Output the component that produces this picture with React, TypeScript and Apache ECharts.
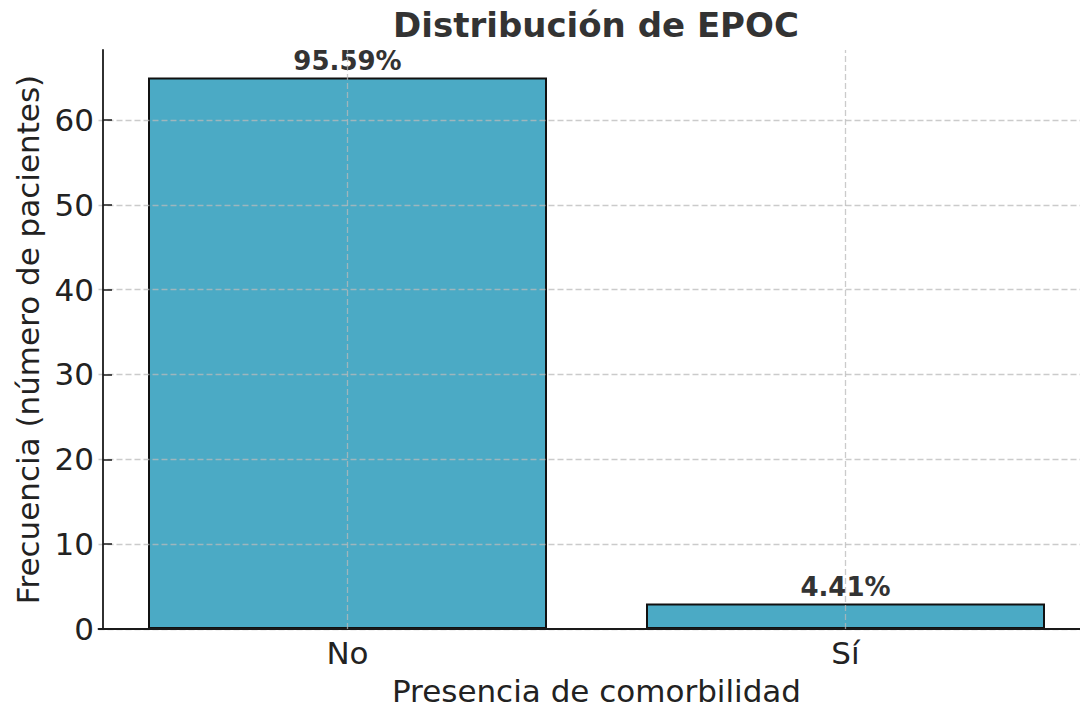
import React, { useEffect, useRef } from "react";
import * as echarts from "echarts";

const categories = ["No", "Sí"];
const counts = [65, 3];
const yTicks = [0, 10, 20, 30, 40, 50, 60];
const yMax = 68.25;

const FONT = "DejaVu Sans";

export default function App() {
  const ref = useRef<HTMLDivElement>(null);
  useEffect(() => {
    if (!ref.current) return;
    const chart = echarts.init(ref.current, null, { renderer: "svg" });
    const total = counts.reduce((a, b) => a + b, 0);
    const gridColor = "rgba(185,185,185,0.75)";
    chart.setOption({
      animation: false,
      backgroundColor: "#ffffff",
      textStyle: { fontFamily: FONT },
      graphic: [
        {
          type: "text",
          x: 596,
          y: 25,
          style: {
            text: "Distribución de EPOC",
            fill: "#333333",
            font: `bold 34px "${FONT}"`,
            textAlign: "center",
            textVerticalAlign: "middle",
          },
        },
      ],
      grid: { left: 98.5, right: 5.5, top: 50, bottom: 82 },
      xAxis: {
        type: "category",
        data: categories,
        z: 3,
        axisLine: { lineStyle: { color: "#1a1a1a", width: 1.8 } },
        axisTick: { alignWithLabel: true, inside: true, length: 9, lineStyle: { color: "#1a1a1a", width: 1.5 } },
        axisLabel: { color: "#222222", fontSize: 31, fontFamily: FONT, margin: 8 },
        splitLine: { show: false },
        name: "Presencia de comorbilidad",
        nameLocation: "middle",
        nameGap: 46,
        nameTextStyle: { color: "#222222", fontSize: 31, fontFamily: FONT },
      },
      yAxis: {
        type: "value",
        min: 0,
        max: yMax,
        interval: 10,
        offset: -4.5,
        z: 3,
        axisLine: { show: true, lineStyle: { color: "#1a1a1a", width: 1.8 } },
        axisTick: { show: true, inside: true, length: 9, customValues: yTicks, lineStyle: { color: "#1a1a1a", width: 1.5 } },
        axisLabel: { color: "#222222", fontSize: 31, fontFamily: FONT, margin: 9, customValues: yTicks },
        splitLine: { show: true, lineStyle: { color: gridColor, width: 1.3, type: [6, 3] } },
        name: "Frecuencia (número de pacientes)",
        nameLocation: "middle",
        nameGap: 60,
        nameTextStyle: { color: "#222222", fontSize: 31, fontFamily: FONT },
      },
      series: [
        {
          type: "bar",
          data: counts,
          barWidth: 399,
          z: 2,
          itemStyle: { color: "#4BAAC5", borderColor: "#111111", borderWidth: 2 },
          label: {
            show: true,
            position: "top",
            distance: 4,
            color: "#333333",
            fontSize: 26,
            fontWeight: "bold",
            fontFamily: FONT,
            formatter: (p: any) => ((p.value / total) * 100).toFixed(2) + "%",
          },
          markLine: {
            silent: true,
            symbol: "none",
            label: { show: false },
            z: 4,
            lineStyle: { color: gridColor, width: 1.3, type: [6, 3] },
            data: categories.map((c) => ({ xAxis: c })),
          },
        },
      ],
    });
    return () => chart.dispose();
  }, []);
  return (
    <div
      ref={ref}
      style={{ position: "fixed", left: 0, top: 0, width: 1100, height: 711 }}
    />
  );
}
